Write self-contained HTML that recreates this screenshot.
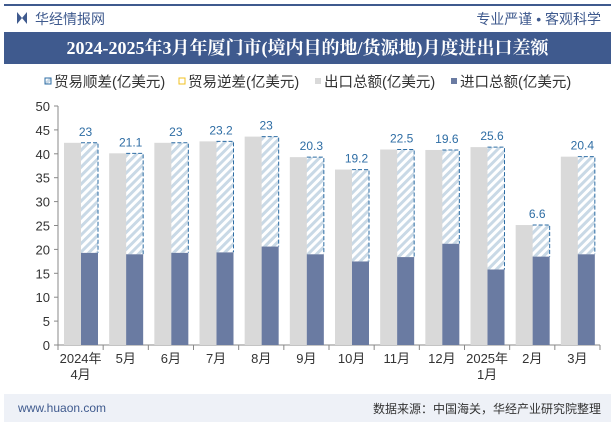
<!DOCTYPE html><html><head><meta charset="utf-8"><style>
body{margin:0;width:615px;height:427px;background:#fff;font-family:"Liberation Sans","Noto Sans CJK SC",sans-serif;position:relative;overflow:hidden}
.abs{position:absolute}
</style></head><body>
<div class="abs" style="left:4px;top:4px;width:607px;height:2px;background:#3f5a8e"></div>
<div class="abs" style="left:17px;top:12px;width:0;height:0;border-left:5px solid #3f5a8e;border-right:5px solid #3f5a8e;border-top:6px solid transparent;border-bottom:6px solid transparent"></div>
<div class="abs" style="left:35px;top:9px;font-size:14px;color:#3f5a8e">华经情报网</div>
<div class="abs" style="right:14px;top:9px;font-size:14px;color:#3f5a8e">专业严谨 • 客观科学</div>
<div class="abs" style="left:4px;top:32px;width:607px;height:32px;background:#3f5a8e;color:#fff;font-size:18px;font-weight:bold;text-align:center;line-height:32px;font-family:'Liberation Serif','Noto Serif CJK SC',serif">2024-2025年3月年厦门市(境内目的地/货源地)月度进出口差额</div>
<svg class="abs" style="left:0;top:0" width="615" height="427" id="chart"></svg>
<div class="abs" style="left:4px;top:394px;width:607px;height:28px;background:#eef1f7"></div>
<div class="abs" style="left:18px;top:401px;font-size:12px;color:#3f5a8e">www.huaon.com</div>
<div class="abs" style="right:14px;top:400px;font-size:12px;color:#333">数据来源：中国海关，华经产业研究院整理</div>
<script>
const categories=["2024年|4月","5月","6月","7月","8月","9月","10月","11月","12月","2025年|1月","2月","3月"];
const exportsV=[42.3,40.1,42.3,42.6,43.6,39.3,36.7,40.9,40.8,41.4,25.1,39.4];
const importsV=[19.3,19.0,19.3,19.4,20.6,19.0,17.5,18.4,21.2,15.8,18.5,19.0];
const surplusV=[23,21.1,23,23.2,23,20.3,19.2,22.5,19.6,25.6,6.6,20.4];
const yTicks=[0,5,10,15,20,25,30,35,40,45,50];
const NS="http://www.w3.org/2000/svg";
const svg=document.getElementById('chart');
const x0=58,x1=600,y0=345,y1=106;
const bw=(x1-x0)/categories.length;
const y=v=>y0-(v/50)*(y0-y1);
function mk(t,a,name,parent){const e=document.createElementNS(NS,t);for(const k in a)e.setAttribute(k,a[k]);


(parent||svg).appendChild(e);return e;}
const defs=mk('defs',{},'defs');
const p=mk('pattern',{id:'hatch',width:6,height:6,patternUnits:'userSpaceOnUse',patternTransform:'rotate(45)'},'hatch-pattern',defs);
mk('rect',{width:6,height:6,fill:'#fff'},'hatch-bg',p);
mk('rect',{width:3,height:6,fill:'#c9d9e6'},'hatch-line',p);
// legend
const leg=[["贸易顺差(亿美元)",'url(#hatch)','#2e6da4',48],["贸易逆差(亿美元)",'#fff','#f0c020',182],["出口总额(亿美元)",'#d9d9d9','none',318],["进口总额(亿美元)",'#6a7ba2','none',454]];
leg.forEach((l,i)=>{mk('rect',{x:l[3]-3,y:78,width:6,height:6,fill:l[1],stroke:l[2],'stroke-width':1},'legend-swatch-'+i);
const t=mk('text',{x:l[3]+6,y:87,'font-size':14.5,fill:'#333'},'legend-entry-'+i);t.textContent=l[0];});
// axis
mk('line',{x1:x0,y1:y1,x2:x0,y2:y0,stroke:'#888'},'y-axis');
mk('line',{x1:x0,y1:y0,x2:x1,y2:y0,stroke:'#888'},'x-axis');
yTicks.forEach(v=>{mk('line',{x1:x0-4,y1:y(v),x2:x0,y2:y(v),stroke:'#888'},'y-tick');
const t=mk('text',{x:x0-8,y:y(v)+5,'font-size':13,fill:'#333','text-anchor':'end'},'y-tick-label');t.textContent=v;});
categories.forEach((c,i)=>{const bx=x0+i*bw;
mk('line',{x1:bx,y1:y0,x2:bx,y2:y0+5,stroke:'#888'},'x-tick');
const ex=bx+6,ix=bx+23,w=17;
mk('rect',{x:ex,y:y(exportsV[i]),width:w+1,height:y0-y(exportsV[i]),fill:'#d9d9d9'},'export-bar');
mk('rect',{x:ix,y:y(importsV[i]),width:w,height:y0-y(importsV[i]),fill:'#6a7ba2'},'import-bar');
const top=importsV[i]+surplusV[i];
mk('rect',{x:ix,y:y(top),width:w,height:y(importsV[i])-y(top),fill:'url(#hatch)'},'surplus-bar');
mk('polyline',{points:`${ix},${y(top)} ${ix+w},${y(top)} ${ix+w},${y(importsV[i])}`,fill:'none',stroke:'#2e6da4','stroke-dasharray':'4,2','stroke-width':1},'surplus-bar-outline');
const t=mk('text',{x:ix+w/2-4,y:y(top)-7,'font-size':12,fill:'#2e6da4','text-anchor':'middle'},'surplus-value-label');t.textContent=surplusV[i];
c.split('|').forEach((s,j)=>{const tt=mk('text',{x:bx+bw/2,y:363+j*16,'font-size':13,fill:'#333','text-anchor':'middle'},'x-tick-label');tt.textContent=s;});
});
mk('line',{x1:x1,y1:y0,x2:x1,y2:y0+5,stroke:'#888'},'x-tick');
</script>
</body></html>
